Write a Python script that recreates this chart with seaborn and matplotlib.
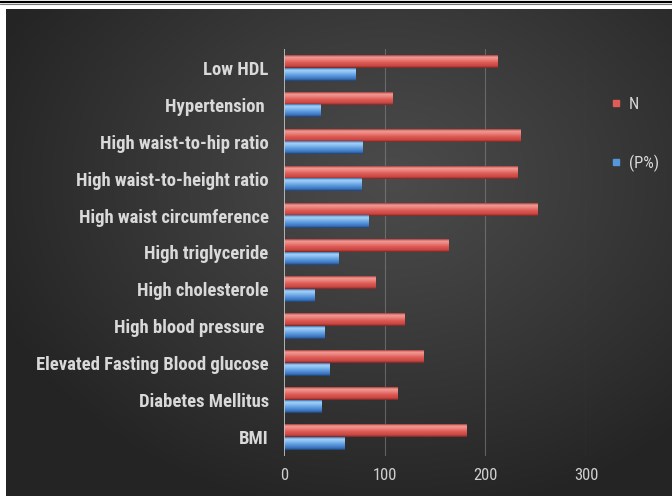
import numpy as np
import pandas as pd
import matplotlib
matplotlib.use("Agg")
import matplotlib.pyplot as plt
import seaborn as sns
from matplotlib.colors import to_rgb
from matplotlib.lines import Line2D
from matplotlib import font_manager

categories = [
    "Low HDL",
    "Hypertension ",
    "High waist-to-hip ratio",
    "High waist-to-height ratio",
    "High waist circumference",
    "High triglyceride",
    "High cholesterole",
    "High blood pressure ",
    "Elevated Fasting Blood glucose",
    "Diabetes Mellitus",
    "BMI",
]
n_values = [212, 108, 235, 232, 252, 163, 91, 120, 139, 113, 181]
p_values = [71, 36, 78, 77, 84, 54, 30, 40, 45, 37, 60]
series = ["N", "(P%)"]
x_ticks = [0, 100, 200, 300]

df = pd.DataFrame({
    "category": categories * 2,
    "value": n_values + p_values,
    "series": [series[0]] * len(categories) + [series[1]] * len(categories),
})

sns.set_theme(style="dark")

# prefer a narrow face if one is installed
installed = {f.name for f in font_manager.fontManager.ttflist}
narrow = [n for n in ["Liberation Sans Narrow", "Roboto Condensed", "Open Sans Condensed"]
          if n in installed]
plt.rcParams["font.family"] = narrow + ["DejaVu Sans"]
plt.rcParams["font.stretch"] = "condensed"

W, H = 672, 496
fig = plt.figure(figsize=(W / 100, H / 100), dpi=100)
fig.patch.set_facecolor("white")

# dark panel with a soft radial glow
bg = fig.add_axes([6 / W, 0, 1 - 6 / W, 1 - 9 / H])
h, w = H - 9, W - 6
yy, xx = np.mgrid[0:h, 0:w]
cx, cy = 390 - 6, 180 - 9
r = np.sqrt(((xx - cx) / 430) ** 2 + ((yy - cy) / 340) ** 2)
t = np.clip(r, 0, 1) ** 1.1
inner = np.array(to_rgb("#4b4b4b"))
outer = np.array(to_rgb("#242424"))
img = inner * (1 - t[..., None]) + outer * t[..., None]
bg.imshow(img, aspect="auto", interpolation="bilinear")
bg.axis("off")

# double rule at the top edge
fig.add_artist(Line2D([0, 1], [1 - 1.5 / H] * 2, transform=fig.transFigure,
                      color="black", lw=1.6))
fig.add_artist(Line2D([0, 1], [1 - 4.2 / H] * 2, transform=fig.transFigure,
                      color="#777777", lw=0.8))

ax = fig.add_axes([284 / W, 1 - 455.5 / H, (586 - 284) / W, (455.5 - 49.5) / H])
ax.set_facecolor("none")

red, blue = "#e05c57", "#5596dc"
sns.barplot(data=df, y="category", x="value", hue="series", orient="h",
            palette=[red, blue], width=0.68, saturation=1, legend=False,
            ax=ax, zorder=3, edgecolor="none", linewidth=0)

ramps = {
    "red": ["#a8403d", "#f29a94", "#ec8680", "#de5a54", "#c64642", "#7a2826"],
    "blue": ["#3f72b0", "#a4d2f8", "#8ac0ef", "#5a98de", "#3a72bb", "#1d4275"],
}
stops = np.array([0.0, 0.15, 0.32, 0.58, 0.85, 1.0])


def ramp(cols, n=40):
    rgb = np.array([to_rgb(c) for c in cols])
    s = np.linspace(0, 1, n)
    out = np.stack([np.interp(s, stops, rgb[:, k]) for k in range(3)], axis=1)
    return out[:, None, :]


for p in ax.patches:
    fc = p.get_facecolor()
    key = "red" if fc[0] > fc[2] else "blue"
    x0, y0 = p.get_x(), p.get_y()
    wd, ht = p.get_width(), p.get_height()
    ax.imshow(ramp(ramps[key]), aspect="auto", interpolation="bilinear",
              extent=(x0, x0 + wd, y0 + ht, y0), zorder=4)

ax.set_xlim(0, 300)
ax.set_ylim(len(categories) - 0.5, -0.5)

ax.grid(False)
for xv in x_ticks[1:]:
    ax.axvline(xv, color="#8c8c8c", lw=0.8, alpha=0.55, zorder=1)
ax.axvline(0, color="#c8c8c8", lw=1.2, zorder=5)
for s in ax.spines.values():
    s.set_visible(False)

ax.set_xticks(x_ticks)
ax.set_xticklabels([str(v) for v in x_ticks])
ax.tick_params(axis="x", length=0, pad=9, labelsize=12, labelcolor="#cfcfcf")
ax.tick_params(axis="y", length=0, pad=11, labelsize=13.4, labelcolor="#d9d9d9")
for lbl in ax.get_yticklabels():
    lbl.set_fontweight("bold")
ax.set_xlabel("")
ax.set_ylabel("")

# keep the longest category label within the space left of the axis
renderer = fig.canvas.get_renderer()
widest = max(l.get_window_extent(renderer).width for l in ax.get_yticklabels())
if widest > 236:
    size = 13.4 * 236 / widest
    for lbl in ax.get_yticklabels():
        lbl.set_fontsize(size)

handles = [
    Line2D([], [], marker="s", ls="", color=red, markersize=5),
    Line2D([], [], marker="s", ls="", color=blue, markersize=5),
]
fig.legend(handles, series, loc="upper left", bbox_to_anchor=(594 / W, 1 - 82 / H),
           frameon=False, labelspacing=2.55, handlelength=0.8, handletextpad=0.4,
           fontsize=12, labelcolor="#d9d9d9")

fig.savefig("out.png", dpi=100, facecolor=fig.get_facecolor())
